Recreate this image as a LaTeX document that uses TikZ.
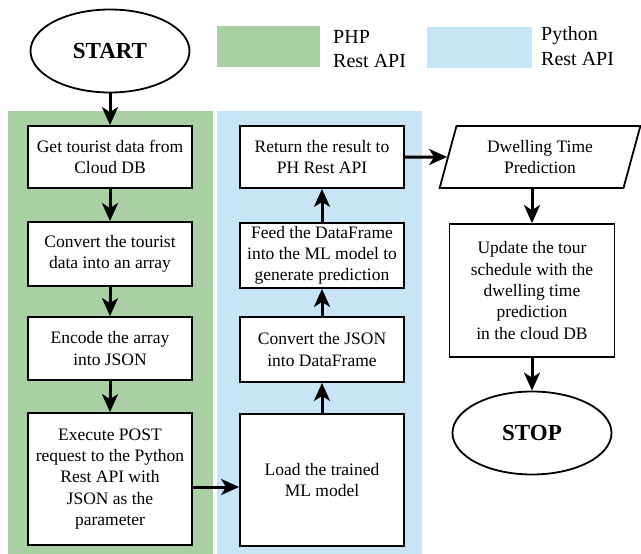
\documentclass[tikz,border=0pt]{standalone}
\usepackage{fontspec}
\setmainfont{Liberation Serif}
\usetikzlibrary{arrows.meta,shapes.geometric,calc}
\definecolor{phpgreen}{RGB}{168,208,162}
\definecolor{pyblue}{RGB}{200,229,247}
\begin{document}
\begin{tikzpicture}[x=1pt,y=-1pt,
  box/.style={draw, line width=1.8pt, fill=white, minimum width=164pt, align=center, inner sep=1pt, font=\fontsize{17.5}{21.3}\selectfont},
  term/.style={draw, ellipse, line width=1.8pt, fill=white, minimum width=159pt, minimum height=83pt, inner sep=0pt, font=\fontsize{23}{27}\selectfont\bfseries},
  arr/.style={line width=3pt, -{Stealth[length=18pt,width=16pt,inset=5pt]}},
  legtext/.style={font=\fontsize{20}{24}\selectfont, anchor=base west, inner sep=0pt},
]
\useasboundingbox (0,0) rectangle (641,554);
% panels
\fill[phpgreen] (8,111) rectangle (213,554);
\fill[pyblue] (217,111) rectangle (422,554);
% legend
\fill[phpgreen] (217,26) rectangle (320,67);
\fill[pyblue] (427,27) rectangle (532,68);
\node[legtext] (phpA) at (333,43) {PHP};
\node[legtext] (phpB) at (333,67) {Rest API};
\node[legtext] (pyA) at (541,40) {Python};
\node[legtext] (pyB) at (541,65) {Rest API};
% terminals
\node[term] (start) at (110,51) {START};
\node[term] (stop) at (532,433) {STOP};
% left column
\node[box, minimum height=62pt] (b1) at (110,157) {Get tourist data from\\Cloud DB};
\node[box, minimum height=64pt] (b2) at (110,254) {Convert the tourist\\data into an array};
\node[box, minimum height=63pt] (b3) at (110,348.5) {Encode the array\\into JSON};
\node[box, minimum height=132pt] (b4) at (110,479) {Execute POST\\request to the Python\\Rest API with\\JSON as the\\parameter};
% right column
\node[box, minimum height=62pt] (ret) at (322,157) {Return the result to\\PH Rest API};
\node[box, minimum height=65pt] (feed) at (322,255.5) {Feed the DataFrame\\into the ML model to\\generate prediction};
\node[box, minimum height=65pt] (conv) at (322,349.5) {Convert the JSON\\into DataFrame};
\node[box, minimum height=132pt] (load) at (322,480) {Load the trained\\ML model};
% output
\node[draw, trapezium, trapezium left angle=73, trapezium right angle=107, trapezium stretches=true,
  minimum width=201pt, minimum height=62pt, line width=1.8pt, fill=white, align=center, inner sep=1pt,
  font=\fontsize{17.5}{21.3}\selectfont] (par) at (540,157) {Dwelling Time\\Prediction};
\node[box, minimum width=165pt, minimum height=133pt] (upd) at (532,290.5) {Update the tour\\schedule with the\\dwelling time\\prediction\\in the cloud DB};
% connectors
\draw[arr] (start.south) -- (b1.north);
\draw[arr] (b1.south) -- (b2.north);
\draw[arr] (b2.south) -- (b3.north);
\draw[arr] (b3.south) -- (b4.north);
\draw[arr] ([yshift=-8pt]b4.east) -- ([yshift=-8pt]b4.east -| load.west);
\draw[arr] (load.north) -- (conv.south);
\draw[arr] (conv.north) -- (feed.south);
\draw[arr] (feed.north) -- (ret.south);
\draw[arr] (ret.east) -- (par.west);
\draw[arr] (upd.north |- par.south) -- (upd.north);
\draw[arr] (upd.south) -- (stop.north);
\end{tikzpicture}
\end{document}
